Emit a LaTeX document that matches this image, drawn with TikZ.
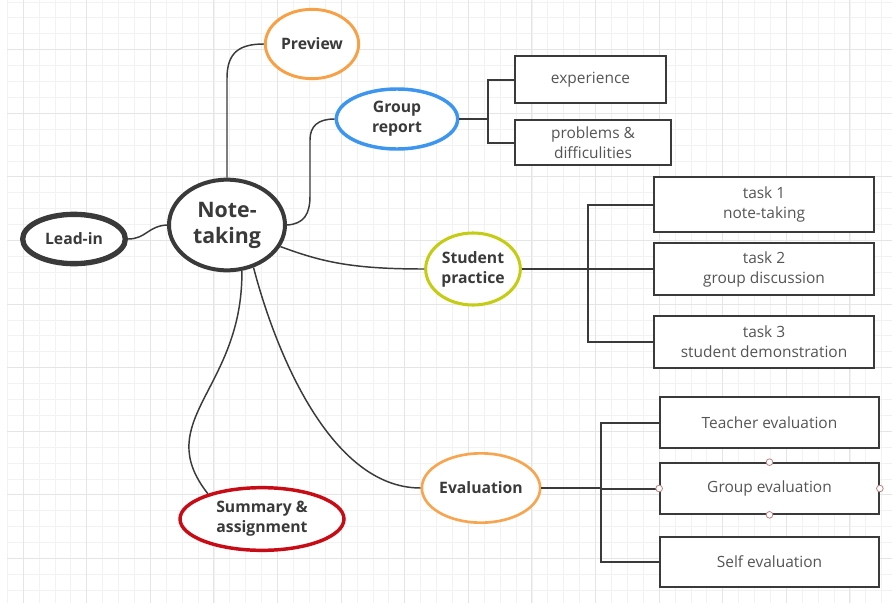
\documentclass[tikz,border=0pt]{standalone}
\usepackage{fontspec}
\setmainfont{Open Sans}
\usepackage{tikz}
\usetikzlibrary{shapes.geometric}
\definecolor{inkdark}{RGB}{58,58,58}
\definecolor{boxtext}{RGB}{85,85,85}
\definecolor{previeworange}{RGB}{247,160,70}
\definecolor{reportblue}{RGB}{60,150,240}
\definecolor{practicelime}{RGB}{196,204,20}
\definecolor{evalorange}{RGB}{248,165,80}
\definecolor{summaryred}{RGB}{200,12,22}
\definecolor{handlepink}{RGB}{190,130,130}
\tikzset{
  topicnode/.style={ellipse, draw, fill=white, inner sep=0pt,
    align=center, text=inkdark, font=\bfseries\fontsize{11.8}{15}\selectfont},
  leafbox/.style={rectangle, draw=inkdark, line width=1.5pt, fill=white,
    align=center, text=boxtext, font=\fontsize{11.6}{15}\selectfont},
  link/.style={draw=inkdark, line width=1.1pt},
  elbow/.style={draw=inkdark, line width=1.5pt},
  handle/.style={circle, draw=handlepink, fill=white, line width=0.6pt,
    inner sep=0pt, minimum size=5pt},
}

\begin{document}
\begin{tikzpicture}[x=0.75pt, y=-0.75pt]
  \useasboundingbox (0,0) rectangle (892,603);
  \fill[white] (0,0) rectangle (892,603);

  % background grid
  \foreach \i in {0,...,55}
    \draw[gray!10, line width=0.4pt] (7.1+15.9*\i,0) -- (7.1+15.9*\i,603);
  \foreach \j in {0,...,38}
    \draw[gray!10, line width=0.4pt] (7,1.8+15.9*\j) -- (892,1.8+15.9*\j);
  \foreach \i in {0,...,13}
    \draw[gray!20, line width=0.5pt] (23+63.6*\i,0) -- (23+63.6*\i,603);
  \foreach \j in {0,...,9}
    \draw[gray!20, line width=0.5pt] (7,49.5+63.6*\j) -- (892,49.5+63.6*\j);

  % topics
  \node[topicnode, draw=inkdark, line width=3pt, minimum width=87pt, minimum height=68pt,
        font=\bfseries\fontsize{16}{19.5}\selectfont] (note) at (227,225) {Note-\\taking};
  \node[topicnode, draw=inkdark, line width=4pt, minimum width=77pt, minimum height=37pt] (lead) at (74,239) {Lead-in};
  \node[topicnode, draw=previeworange, line width=2.2pt, minimum width=70pt, minimum height=52pt] (prev) at (312,44) {Preview};
  \node[topicnode, draw=reportblue, line width=2.6pt, minimum width=91pt, minimum height=45pt] (grp) at (397,119) {Group\\report};
  \node[topicnode, draw=practicelime, line width=2.3pt, minimum width=71pt, minimum height=54pt] (stu) at (473,269) {Student\\practice};
  \node[topicnode, draw=evalorange, line width=2pt, minimum width=85pt, minimum height=52pt] (eva) at (481,488) {Evaluation};
  \node[topicnode, draw=summaryred, line width=2.6pt, minimum width=123pt, minimum height=47pt] (sum) at (262,519) {Summary \&\\assignment};

  % leaves
  \node[leafbox, minimum width=113pt, minimum height=35pt] (exp) at (590.5,79.5) {experience};
  \node[leafbox, minimum width=117pt, minimum height=34pt] (prob) at (593,142.5) {problems \&\\difficulities};
  \node[leafbox, minimum width=165pt, minimum height=41pt] (t1) at (764,204.5) {task 1\\note-taking};
  \node[leafbox, minimum width=165pt, minimum height=39pt] (t2) at (764,269) {task 2\\group discussion};
  \node[leafbox, minimum width=165pt, minimum height=39pt] (t3) at (764,342) {task 3\\student demonstration};
  \node[leafbox, minimum width=164pt, minimum height=38pt] (teval) at (769.5,422.5) {Teacher evaluation};
  \node[leafbox, minimum width=164pt, minimum height=38pt] (geval) at (769.5,488.5) {Group evaluation};
  \node[leafbox, minimum width=164pt, minimum height=38pt] (seval) at (769.5,562) {Self evaluation};

  % curved links from the centre
  \path[link] (lead.east) .. controls (146,239) and (148,226) .. (note.west);
  \path[link] (note.north) -- (227,78) .. controls (227,52) and (240,44) .. (prev.west);
  \path[link] (note.east) .. controls (304,224) and (310,214) .. (310,196)
    -- (310,140) .. controls (310,126) and (318,119) .. (grp.west);
  \path[link] (note.-22) .. controls (322,262) and (352,269) .. (stu.west);
  \path[link] (note.-72) .. controls (243,390) and (150,420) .. (sum.155);
  \path[link] (note.-58) .. controls (275,350) and (330,488) .. (eva.west);

  % branch elbows
  \path (grp.east) ++(29,0) coordinate (gj);
  \path (stu.east) ++(66,0) coordinate (sj);
  \path (eva.east) ++(60,0) coordinate (ej);
  \path[elbow] (grp.east) -- (gj);
  \foreach \b in {exp,prob}
    \path[elbow] (\b.west) -| (gj);
  \path[elbow] (stu.east) -- (sj);
  \foreach \b in {t1,t2,t3}
    \path[elbow] (\b.west) -| (sj);
  \path[elbow] (eva.east) -- (ej);
  \foreach \b in {teval,geval,seval}
    \path[elbow] (\b.west) -| (ej);

  \foreach \a in {north,south,west,east}
    \node[handle] (h-\a) at (geval.\a) {};
\end{tikzpicture}
\end{document}
